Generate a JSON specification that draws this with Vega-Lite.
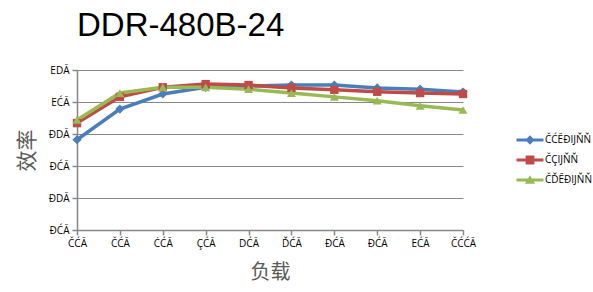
{
  "$schema": "https://vega.github.io/schema/vega-lite/v6.json",
  "autosize": {"type": "none"},
  "padding": {"left": 77, "top": 70, "right": 130, "bottom": 62},
  "width": 386,
  "height": 160,
  "background": "white",
  "title": {
    "text": "DDR-480B-24",
    "anchor": "start",
    "frame": "group",
    "font": "Liberation Sans",
    "fontSize": 33,
    "fontWeight": "normal",
    "color": "#000000",
    "baseline": "alphabetic",
    "offset": -4
  },
  "data": {
    "values": [
      {"series": "ČĆĔĐĲŇŇ", "load": 10, "eff": 84.1},
      {"series": "ČĆĔĐĲŇŇ", "load": 20, "eff": 88.9},
      {"series": "ČĆĔĐĲŇŇ", "load": 30, "eff": 91.25},
      {"series": "ČĆĔĐĲŇŇ", "load": 40, "eff": 92.3},
      {"series": "ČĆĔĐĲŇŇ", "load": 50, "eff": 92.5},
      {"series": "ČĆĔĐĲŇŇ", "load": 60, "eff": 92.65},
      {"series": "ČĆĔĐĲŇŇ", "load": 70, "eff": 92.65},
      {"series": "ČĆĔĐĲŇŇ", "load": 80, "eff": 92.2},
      {"series": "ČĆĔĐĲŇŇ", "load": 90, "eff": 92.0},
      {"series": "ČĆĔĐĲŇŇ", "load": 100, "eff": 91.55},
      {"series": "ČÇĲŇŇ", "load": 10, "eff": 86.7},
      {"series": "ČÇĲŇŇ", "load": 20, "eff": 90.8},
      {"series": "ČÇĲŇŇ", "load": 30, "eff": 92.3},
      {"series": "ČÇĲŇŇ", "load": 40, "eff": 92.8},
      {"series": "ČÇĲŇŇ", "load": 50, "eff": 92.65},
      {"series": "ČÇĲŇŇ", "load": 60, "eff": 92.2},
      {"series": "ČÇĲŇŇ", "load": 70, "eff": 91.9},
      {"series": "ČÇĲŇŇ", "load": 80, "eff": 91.6},
      {"series": "ČÇĲŇŇ", "load": 90, "eff": 91.4},
      {"series": "ČÇĲŇŇ", "load": 100, "eff": 91.25},
      {"series": "ČĎĔĐĲŇŇ", "load": 10, "eff": 87.2},
      {"series": "ČĎĔĐĲŇŇ", "load": 20, "eff": 91.4},
      {"series": "ČĎĔĐĲŇŇ", "load": 30, "eff": 92.3},
      {"series": "ČĎĔĐĲŇŇ", "load": 40, "eff": 92.3},
      {"series": "ČĎĔĐĲŇŇ", "load": 50, "eff": 92.0},
      {"series": "ČĎĔĐĲŇŇ", "load": 60, "eff": 91.4},
      {"series": "ČĎĔĐĲŇŇ", "load": 70, "eff": 90.8},
      {"series": "ČĎĔĐĲŇŇ", "load": 80, "eff": 90.2},
      {"series": "ČĎĔĐĲŇŇ", "load": 90, "eff": 89.4},
      {"series": "ČĎĔĐĲŇŇ", "load": 100, "eff": 88.75}
    ]
  },
  "encoding": {
    "x": {
      "field": "load",
      "type": "quantitative",
      "scale": {"domain": [10, 100], "nice": false, "zero": false},
      "axis": {
        "values": [10, 20, 30, 40, 50, 60, 70, 80, 90, 100],
        "labelExpr": "['ČĆĀ','ČĆĀ','ĊĆĀ','ÇĆĀ','DĆĀ','ĎĆĀ','ĐĆĀ','ĐĆĀ','EĆĀ','ČĆĆĀ'][round(datum.value/10)-1]",
        "grid": false,
        "title": "负载",
        "titleFont": "Noto Sans CJK SC",
        "titleFontSize": 20,
        "titleFontWeight": "normal",
        "titleColor": "#595959",
        "titlePadding": 14,
        "labelFont": "Open Sans",
        "labelFontSize": 10,
        "labelColor": "#000000",
        "labelPadding": 3,
        "tickSize": 5,
        "tickColor": "#868686",
        "domainColor": "#868686",
        "domainWidth": 1.5,
        "tickWidth": 1.5,
        "labelFlush": false,
        "labelOverlap": false
      }
    },
    "y": {
      "field": "eff",
      "type": "quantitative",
      "scale": {"domain": [70, 95], "nice": false, "zero": false},
      "axis": {
        "values": [70, 75, 80, 85, 90, 95],
        "labelExpr": "{'70':'ĐĆĀ','75':'ĐDĀ','80':'ĐĆĀ','85':'ĐDĀ','90':'EĆĀ','95':'EDĀ'}[''+datum.value]",
        "grid": true,
        "gridColor": "#868686",
        "gridWidth": 1.2,
        "title": "效率",
        "titleFont": "Noto Sans CJK SC",
        "titleFontSize": 21,
        "titleFontWeight": "normal",
        "titleColor": "#595959",
        "titlePadding": 11,
        "labelFont": "Open Sans",
        "labelFontSize": 10,
        "labelColor": "#000000",
        "labelPadding": 3,
        "tickSize": 5,
        "tickColor": "#868686",
        "domainColor": "#868686",
        "domainWidth": 1.5,
        "tickWidth": 1.5,
        "labelOverlap": false,
        "labelFlush": false
      }
    }
  },
  "layer": [
    {
      "mark": {"type": "line", "strokeWidth": 3.5},
      "encoding": {
        "stroke": {
          "field": "series",
          "type": "nominal",
          "scale": {"domain": ["ČĆĔĐĲŇŇ", "ČÇĲŇŇ", "ČĎĔĐĲŇŇ"], "range": ["#4a7ebb", "#be4b48", "#98b954"]},
          "legend": null
        }
      }
    },
    {
      "transform": [{"filter": "datum.series === 'ČĆĔĐĲŇŇ'"}],
      "mark": {"type": "point", "filled": true, "size": 85, "opacity": 1, "shape": "diamond"},
      "encoding": {
        "fill": {
          "field": "series",
          "type": "nominal",
          "scale": {"domain": ["ČĆĔĐĲŇŇ", "ČÇĲŇŇ", "ČĎĔĐĲŇŇ"], "range": ["#4a7ebb", "#be4b48", "#98b954"]},
          "legend": null
        }
      }
    },
    {
      "transform": [{"filter": "datum.series === 'ČÇĲŇŇ'"}],
      "mark": {"type": "point", "filled": true, "size": 70, "opacity": 1, "shape": "square"},
      "encoding": {
        "fill": {
          "field": "series",
          "type": "nominal",
          "scale": {"domain": ["ČĆĔĐĲŇŇ", "ČÇĲŇŇ", "ČĎĔĐĲŇŇ"], "range": ["#4a7ebb", "#be4b48", "#98b954"]},
          "legend": null
        }
      }
    },
    {
      "transform": [{"filter": "datum.series === 'ČĎĔĐĲŇŇ'"}],
      "mark": {"type": "point", "filled": true, "size": 80, "opacity": 1, "shape": "triangle-up"},
      "encoding": {
        "fill": {
          "field": "series",
          "type": "nominal",
          "scale": {"domain": ["ČĆĔĐĲŇŇ", "ČÇĲŇŇ", "ČĎĔĐĲŇŇ"], "range": ["#4a7ebb", "#be4b48", "#98b954"]},
          "legend": null
        }
      }
    },
    {
      "mark": {"type": "point", "filled": true, "opacity": 0, "size": 182},
      "encoding": {
        "color": {
          "field": "series",
          "type": "nominal",
          "scale": {"domain": ["ČĆĔĐĲŇŇ", "ČÇĲŇŇ", "ČĎĔĐĲŇŇ"], "range": ["#4a7ebb", "#be4b48", "#98b954"]},
          "legend": {
            "title": null,
            "orient": "none",
            "legendX": 446,
            "legendY": 63,
            "symbolOpacity": 1,
            "symbolStrokeWidth": 0,
            "symbolSize": 182,
            "labelFont": "Open Sans",
            "labelFontSize": 10,
            "labelColor": "#000000",
            "labelOffset": 8,
            "rowPadding": 8,
            "labelLimit": 0
          }
        },
        "shape": {
          "field": "series",
          "type": "nominal",
          "scale": {
            "domain": ["ČĆĔĐĲŇŇ", "ČÇĲŇŇ", "ČĎĔĐĲŇŇ"],
            "range": [
              "M-2,-0.22H2V0.22H-2Z M0,-0.7L0.7,0L0,0.7L-0.7,0Z",
              "M-2,-0.22H2V0.22H-2Z M-0.65,-0.65H0.65V0.65H-0.65Z",
              "M-2,-0.22H2V0.22H-2Z M0,-0.72L0.75,0.55L-0.75,0.55Z"
            ]
          },
          "legend": {
            "title": null,
            "orient": "none",
            "legendX": 446,
            "legendY": 63,
            "symbolOpacity": 1,
            "symbolStrokeWidth": 0,
            "symbolSize": 182,
            "labelFont": "Open Sans",
            "labelFontSize": 10,
            "labelColor": "#000000",
            "labelOffset": 8,
            "rowPadding": 8,
            "labelLimit": 0
          }
        }
      }
    }
  ],
  "resolve": {
    "scale": {"color": "independent", "shape": "independent"},
    "legend": {"color": "independent", "shape": "independent"}
  },
  "config": {"view": {"stroke": null}}
}
